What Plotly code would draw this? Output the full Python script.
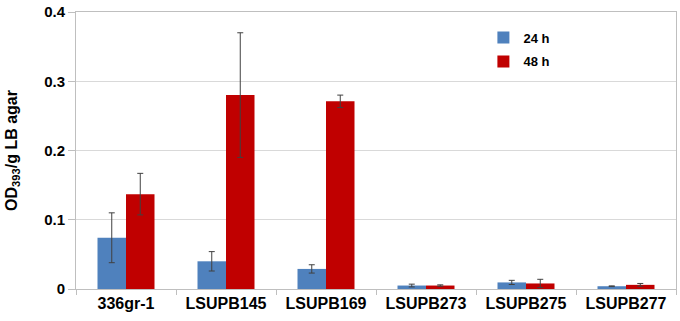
import plotly.graph_objects as go

categories = ["336gr-1", "LSUPB145", "LSUPB169", "LSUPB273", "LSUPB275", "LSUPB277"]
h24 = [0.074, 0.040, 0.029, 0.005, 0.0095, 0.004]
h24_err = [0.036, 0.014, 0.006, 0.002, 0.003, 0.0005]
h48 = [0.137, 0.280, 0.271, 0.005, 0.008, 0.006]
h48_err = [0.030, 0.090, 0.009, 0.001, 0.006, 0.002]
y_ticks = [0, 0.1, 0.2, 0.3, 0.4]
y_labels = ["0", "0.1", "0.2", "0.3", "0.4"]

FONT = "Liberation Sans, Arial, sans-serif"
ERR = dict(type="data", visible=True, color="#404040", thickness=1, width=3)

fig = go.Figure()
fig.add_trace(go.Bar(
    x=categories, y=h24, name="24 h", legendgroup="a",
    marker=dict(color="#4F81BD", line=dict(width=0)),
    error_y=dict(array=h24_err, **ERR),
))
fig.add_trace(go.Bar(
    x=categories, y=h48, name="48 h", legendgroup="b",
    marker=dict(color="#C00000", line=dict(width=0)),
    error_y=dict(array=h48_err, **ERR),
))

fig.update_layout(
    width=680, height=321,
    margin=dict(l=76, r=3, t=9, b=32),
    paper_bgcolor="white", plot_bgcolor="white",
    barmode="group", bargap=0.43, bargroupgap=0,
    font=dict(family=FONT, color="black"),
    showlegend=True,
    legend=dict(
        x=0.679, y=0.962, xanchor="left", yanchor="top",
        font=dict(size=13, family=FONT, weight="bold"),
        traceorder="grouped", tracegroupgap=4,
        bgcolor="rgba(0,0,0,0)",
    ),
    xaxis=dict(
        type="category",
        showline=True, linecolor="#BFBFBF", linewidth=1, mirror=True,
        ticks="outside", tickson="boundaries", ticklen=5, tickcolor="#BFBFBF",
        tickfont=dict(size=16, family=FONT, weight="bold"),
        showgrid=False,
    ),
    yaxis=dict(
        range=[0, 0.4],
        tickvals=y_ticks, ticktext=y_labels,
        showline=True, linecolor="#BFBFBF", linewidth=1, mirror=True,
        ticks="outside", ticklen=7, tickcolor="#BFBFBF",
        showgrid=True, gridcolor="#D9D9D9", gridwidth=1,
        zeroline=False,
        tickfont=dict(size=15, family=FONT, weight="bold"),
        title=dict(text="OD<sub>393</sub>/g LB agar", standoff=22,
                   font=dict(size=16, family=FONT, weight="bold")),
    ),
)

fig.write_html("out.html", config={"displayModeBar": False},
               post_script="document.body.style.margin='0px';")
